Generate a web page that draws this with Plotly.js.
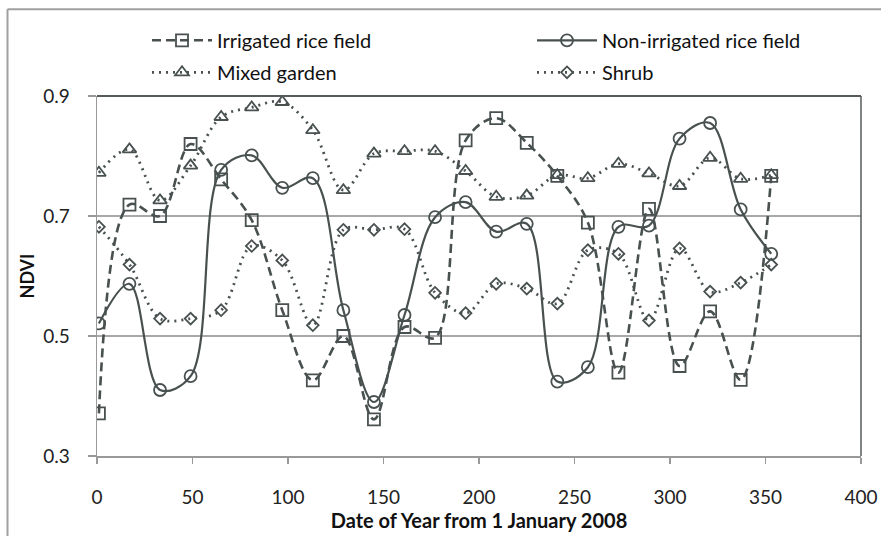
<!DOCTYPE html>
<html>
<head>
<meta charset="utf-8">
<script src="https://cdn.plot.ly/plotly-3.0.1.min.js"></script>
<style>html,body{margin:0;padding:0;background:#fff;}#chart{width:881px;height:536px;}</style>
</head>
<body>
<div id="chart"></div>
<script>
const days = [1,17,33,49,65,81,97,113,129,145,161,177,193,209,225,241,257,273,289,305,321,337,353];
const irrigated = [0.371,0.719,0.700,0.820,0.761,0.693,0.543,0.426,0.500,0.361,0.515,0.497,0.826,0.863,0.822,0.767,0.689,0.439,0.712,0.450,0.541,0.427,0.767];
const nonIrrigated = [0.521,0.587,0.410,0.433,0.777,0.801,0.747,0.763,0.543,0.390,0.535,0.698,0.723,0.674,0.687,0.424,0.448,0.682,0.684,0.829,0.855,0.711,0.637];
const mixedGarden = [0.772,0.811,0.726,0.784,0.865,0.881,0.890,0.843,0.743,0.804,0.808,0.808,0.775,0.732,0.734,0.768,0.763,0.787,0.771,0.750,0.797,0.762,0.768];
const shrub = [0.682,0.619,0.529,0.529,0.543,0.650,0.626,0.518,0.677,0.677,0.678,0.572,0.538,0.587,0.579,0.554,0.643,0.637,0.526,0.646,0.574,0.589,0.619];
const names = ['Irrigated rice field','Non-irrigated rice field','Mixed garden','Shrub'];
const xTicks = [0,50,100,150,200,250,300,350,400];
const yTicks = [0.3,0.5,0.7,0.9];

const C = '#485150';
const FONT = 'Lato, "Open Sans", sans-serif';

function tr(y, name, dash, width, sym, size, legend) {
  return {
    x: days, y: y, name: name, type: 'scatter', mode: 'lines+markers',
    line: {color: C, width: width, dash: dash, shape: 'spline', smoothing: 1},
    marker: {symbol: sym, size: size, color: C, line: {color: C, width: 1.8}},
    legend: legend
  };
}

const data = [
  tr(irrigated, names[0], '9px,5px', 2.6, 'square-open', 12, 'legend'),
  tr(nonIrrigated, names[1], 'solid', 2.2, 'circle-open', 12, 'legend2'),
  tr(mixedGarden, names[2], '2px,5px', 2.8, 'triangle-up-open', 12, 'legend3'),
  tr(shrub, names[3], '2px,5px', 2.8, 'diamond-open', 9, 'legend4')
];

function leg(px, py) {
  return {
    orientation: 'h', xanchor: 'left', yanchor: 'middle',
    x: (px - 97) / 764, y: (455.7 - py) / 360, itemwidth: 60,
    font: {family: FONT, size: 20, color: '#111'},
    bgcolor: 'rgba(0,0,0,0)', itemclick: false
  };
}

const layout = {
  width: 881, height: 536,
  margin: {l: 97, r: 20, t: 96, b: 80, pad: 0},
  paper_bgcolor: '#fff', plot_bgcolor: '#fff',
  font: {family: FONT, size: 18, color: '#222'},
  showlegend: true,
  legend: leg(147, 40),
  legend2: leg(532, 40),
  legend3: leg(147, 72),
  legend4: leg(532, 72),
  xaxis: {
    range: [0, 400], tickvals: xTicks, ticktext: xTicks.map(String),
    showgrid: false, zeroline: false, showline: true, linecolor: '#999', linewidth: 1.5,
    ticks: 'outside', ticklen: 6, tickcolor: '#999', tickwidth: 1.2, ticklabelstandoff: 18,
    tickfont: {family: FONT, size: 19, color: '#222'},
    title: {text: '<b>Date of Year from 1 January 2008</b>', font: {family: FONT, size: 20, color: '#111'}, standoff: 6}
  },
  yaxis: {
    range: [0.3, 0.9], tickvals: yTicks, ticktext: yTicks.map(v => v.toFixed(1)),
    showgrid: true, gridcolor: '#a8a8a8', gridwidth: 1.5, zeroline: false,
    showline: true, linecolor: '#999', linewidth: 1.5,
    ticks: 'outside', ticklen: 8, tickcolor: '#999', tickwidth: 1.2, ticklabelstandoff: 14,
    tickfont: {family: FONT, size: 19, color: '#222'},
    title: {text: '<b>NDVI</b>', font: {family: FONT, size: 18, color: '#111'}, standoff: 4}
  },
  shapes: [
    {type: 'line', xref: 'paper', yref: 'paper', x0: 0, x1: 1, y0: 1, y1: 1, line: {color: '#555c5b', width: 2}},
    {type: 'line', xref: 'paper', yref: 'paper', x0: 1, x1: 1, y0: 0, y1: 1, line: {color: '#555c5b', width: 1.5}},
    {type: 'line', xref: 'paper', yref: 'paper', x0: (7.5 - 97) / 764, x1: 1.2, y0: (455.7 - 9) / 360, y1: (455.7 - 9) / 360, line: {color: '#a0a0a0', width: 2}},
    {type: 'line', xref: 'paper', yref: 'paper', x0: (7.5 - 97) / 764, x1: (7.5 - 97) / 764, y0: (455.7 - 9) / 360, y1: -0.5, line: {color: '#a0a0a0', width: 2}}
  ]
};

Plotly.newPlot('chart', data, layout, {staticPlot: true, displayModeBar: false});
</script>
</body>
</html>
